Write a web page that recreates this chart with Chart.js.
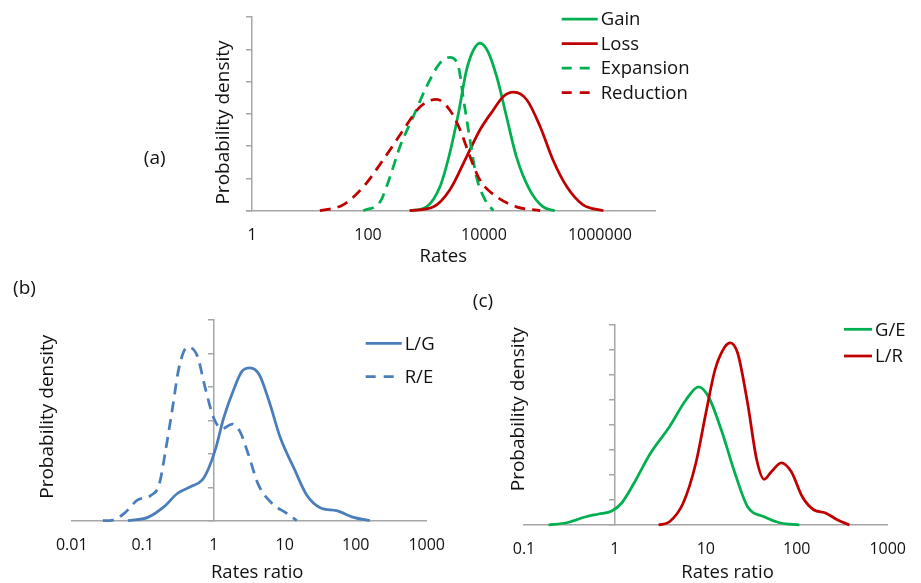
<!DOCTYPE html>
<html>
<head>
<meta charset="utf-8">
<script src="https://cdn.jsdelivr.net/npm/chart.js@4.4.1/dist/chart.umd.min.js"></script>
<style>
  body { margin: 0; background: #fff; }
  #wrap { position: relative; width: 921px; height: 583px; }
  canvas { position: absolute; left: 0; top: 0; }
</style>
</head>
<body>
<div id="wrap">
  <canvas id="chartA" width="921" height="583"></canvas>
  <canvas id="chartB" width="921" height="583"></canvas>
  <canvas id="chartC" width="921" height="583"></canvas>
</div>
<script>
const FONT = "'Open Sans', 'Noto Sans', sans-serif";
const TEXT = '#111111';
const AXIS = '#a6a6a6';
const GREEN = '#00b050';
const RED = '#c00000';
const BLUE = '#4a7ebb';
const X_AXIS_HEIGHT = 40;

/* (a) rates */
const rateTicks = [1, 100, 10000, 1000000];
const gainRates = [525, 1020, 1740, 2570, 3630, 5010, 6610, 8510, 11700, 16600, 24500, 36300, 61700, 105000, 166000];
const gainDensity = [0, 0.12, 0.74, 1.78, 3.02, 4.36, 4.98, 5.19, 4.93, 4.15, 2.91, 1.67, 0.64, 0.12, 0];
const lossRates = [525, 1350, 2570, 5010, 8510, 14500, 21400, 32400, 55000, 93300, 155000, 269000, 513000, 1150000];
const lossDensity = [0, 0.12, 0.64, 1.67, 2.50, 3.12, 3.53, 3.67, 3.43, 2.60, 1.57, 0.74, 0.18, 0];
const expansionRates = [83, 162, 240, 355, 603, 1020, 1740, 2570, 3630, 4370, 5750, 7410, 10500, 14500];
const expansionDensity = [0, 0.28, 1.05, 1.98, 2.91, 3.84, 4.57, 4.75, 4.46, 3.53, 2.19, 1.05, 0.33, 0];
const reductionRates = [14.8, 37.2, 83.2, 182, 407, 794, 1510, 2570, 3890, 5750, 8510, 16600, 36300, 93300];
const reductionDensity = [0, 0.18, 0.74, 1.57, 2.50, 3.22, 3.45, 3.12, 2.50, 1.67, 0.95, 0.43, 0.12, 0];

/* (b) ratios */
const ratioTicksB = [0.01, 0.1, 1, 10, 100, 1000];
const lgRatio = [0.062, 0.118, 0.2, 0.31, 0.48, 0.69, 0.85, 1.07, 1.38, 1.95, 2.51, 3.24, 4.37, 6.03, 8.71, 13.5, 20.4, 31.6, 53.7, 93.3, 158];
const lgDensity = [0, 0.10, 0.42, 0.82, 1.02, 1.22, 1.57, 2.17, 3.07, 3.97, 4.47, 4.57, 4.37, 3.57, 2.47, 1.57, 0.77, 0.39, 0.30, 0.10, 0];
const reRatio = [0.0275, 0.038, 0.055, 0.085, 0.129, 0.17, 0.209, 0.263, 0.324, 0.427, 0.589, 0.759, 1.0, 1.32, 1.82, 2.34, 3.09, 4.27, 6.61, 10.7, 14.8];
const reDensity = [0, 0.02, 0.22, 0.62, 0.75, 1.07, 2.07, 3.37, 4.57, 5.19, 4.92, 3.97, 3.07, 2.75, 2.89, 2.67, 1.97, 1.07, 0.52, 0.22, 0];

/* (c) ratios */
const ratioTicksC = [0.1, 1, 10, 100, 1000];
const geRatio = [0.186, 0.295, 0.479, 0.661, 0.923, 1.18, 1.62, 2.46, 3.98, 6.03, 8.32, 10.7, 14.8, 20.9, 28.8, 43.7, 64.6, 107];
const geDensity = [0, 0.09, 0.33, 0.44, 0.56, 0.87, 1.67, 2.87, 3.93, 5.0, 5.53, 5.13, 3.80, 2.07, 0.73, 0.33, 0.09, 0];
const lrRatio = [3.02, 3.98, 5.62, 7.76, 10, 12.6, 16.2, 18.6, 22.4, 28.8, 36.3, 43.7, 52.5, 67.6, 87.1, 115, 155, 204, 282, 380];
const lrDensity = [0, 0.13, 0.87, 2.47, 4.47, 6.2, 7.13, 7.29, 6.87, 4.87, 2.6, 1.83, 2.13, 2.49, 2.13, 1.13, 0.6, 0.49, 0.2, 0];

function toPoints(xs, ys) {
    return xs.map((x, i) => ({x: x, y: ys[i]}));
}

function curve(label, xs, ys, color, dashed, order) {
    return {
        label: label,
        data: toPoints(xs, ys),
        borderColor: color,
        borderWidth: 2.75,
        borderDash: dashed ? [11, 7] : [],
        pointRadius: 0,
        fill: false,
        cubicInterpolationMode: 'monotone',
        clip: false,
        order: order
    };
}

function xAxis(min, max, tickValues) {
    return {
        type: 'logarithmic',
        min: min,
        max: max,
        afterBuildTicks: s => { s.ticks = tickValues.map(v => ({value: v})); },
        //labels are clipped to the axis box, so keep it tall enough
        afterFit: s => { s.height = X_AXIS_HEIGHT; },
        grid: {display: true, drawOnChartArea: false, drawTicks: false},
        border: {display: true, color: AXIS, width: 1.5},
        ticks: {
            autoSkip: false, maxRotation: 0, padding: 15, color: TEXT,
            font: {family: FONT, size: 16},
            callback: v => String(v)
        }
    };
}

function yAxis(max) {
    return {
        type: 'linear',
        min: 0,
        max: max,
        position: {x: 1},
        afterFit: s => { s.width = 0; },
        ticks: {display: false, stepSize: 1},
        grid: {drawOnChartArea: false, drawTicks: true, tickLength: 5, color: AXIS, lineWidth: 1.5},
        border: {display: true, color: AXIS, width: 1.5}
    };
}

//Titles, panel letters and the Excel style legend
const excelText = {
    id: 'excelText',
    afterDraw(chart, args, opts) {
        const ctx = chart.ctx;
        ctx.save();
        ctx.fillStyle = TEXT;
        (opts.items || []).forEach(it => {
            ctx.save();
            ctx.font = it.size + 'px ' + FONT;
            ctx.textAlign = 'center';
            ctx.textBaseline = 'alphabetic';
            ctx.translate(it.x, it.y);
            if (it.rotate) ctx.rotate(it.rotate * Math.PI / 180);
            ctx.fillText(it.text, 0, 0);
            ctx.restore();
        });
        const lg = opts.legend;
        if (lg) {
            chart.data.datasets.forEach((ds, i) => {
                const y = lg.y + i * lg.gap;
                ctx.beginPath();
                ctx.strokeStyle = ds.borderColor;
                ctx.lineWidth = ds.borderWidth;
                ctx.setLineDash(ds.borderDash.length ? [10, 8] : []);
                ctx.moveTo(lg.x, y);
                ctx.lineTo(lg.x + lg.len, y);
                ctx.stroke();
                ctx.setLineDash([]);
                ctx.font = lg.size + 'px ' + FONT;
                ctx.textAlign = 'left';
                ctx.textBaseline = 'middle';
                ctx.fillText(ds.label, lg.x + lg.len + 3, y + 1);
            });
        }
        ctx.restore();
    }
};

function baseOptions(padding, xScale, yScale, textOpts) {
    return {
        responsive: false,
        animation: false,
        devicePixelRatio: 1,
        layout: {padding: padding},
        scales: {x: xScale, y: yScale},
        plugins: {
            legend: {display: false},
            tooltip: {enabled: false},
            excelText: textOpts
        }
    };
}

var rateChart = new Chart(document.getElementById('chartA'), {
    type: 'line',
    data: {
        datasets: [
            curve('Gain', gainRates, gainDensity, GREEN, false, 4),
            curve('Loss', lossRates, lossDensity, RED, false, 3),
            curve('Expansion', expansionRates, expansionDensity, GREEN, true, 2),
            curve('Reduction', reductionRates, reductionDensity, RED, true, 1)
        ]
    },
    options: baseOptions(
        {left: 246.7, top: 17, right: 266, bottom: 372.3 - X_AXIS_HEIGHT},
        xAxis(0.81, 8.9e6, rateTicks),
        yAxis(6),
        {
            items: [
                {text: 'Probability density', x: 228.7, y: 122.5, rotate: -90, size: 19},
                {text: 'Rates', x: 443.3, y: 261.7, size: 18.5},
                {text: '(a)', x: 154.7, y: 163.5, size: 19}
            ],
            legend: {x: 561.7, y: 19, gap: 24.5, len: 36, size: 18.5}
        }
    ),
    plugins: [excelText]
});

var ratioChartB = new Chart(document.getElementById('chartB'), {
    type: 'line',
    data: {
        datasets: [
            curve('L/G', lgRatio, lgDensity, BLUE, false, 2),
            curve('R/E', reRatio, reDensity, BLUE, true, 1)
        ]
    },
    options: baseOptions(
        {left: 71.7, top: 320, right: 494.3, bottom: 62.3 - X_AXIS_HEIGHT},
        xAxis(0.01, 1000, ratioTicksB),
        yAxis(6),
        {
            items: [
                {text: 'Probability density', x: 52.7, y: 416.7, rotate: -90, size: 19},
                {text: 'Rates ratio', x: 257.2, y: 577.7, size: 18.5},
                {text: '(b)', x: 24.5, y: 293.8, size: 19}
            ],
            legend: {x: 365.7, y: 343.3, gap: 33.4, len: 36, size: 18.5}
        }
    ),
    plugins: [excelText]
});

var ratioChartC = new Chart(document.getElementById('chartC'), {
    type: 'line',
    data: {
        datasets: [
            curve('G/E', geRatio, geDensity, GREEN, false, 2),
            curve('L/R', lrRatio, lrDensity, RED, false, 1)
        ]
    },
    options: baseOptions(
        {left: 524, top: 325, right: 21.7, bottom: 58 - X_AXIS_HEIGHT},
        xAxis(0.1, 1000, ratioTicksC),
        yAxis(8),
        {
            items: [
                {text: 'Probability density', x: 523.7, y: 409.2, rotate: -90, size: 19},
                {text: 'Rates ratio', x: 727.5, y: 577.7, size: 18.5},
                {text: '(c)', x: 483, y: 307.2, size: 19}
            ],
            legend: {x: 844, y: 329.3, gap: 26.7, len: 28, size: 18.5}
        }
    ),
    plugins: [excelText]
});
</script>
</body>
</html>
